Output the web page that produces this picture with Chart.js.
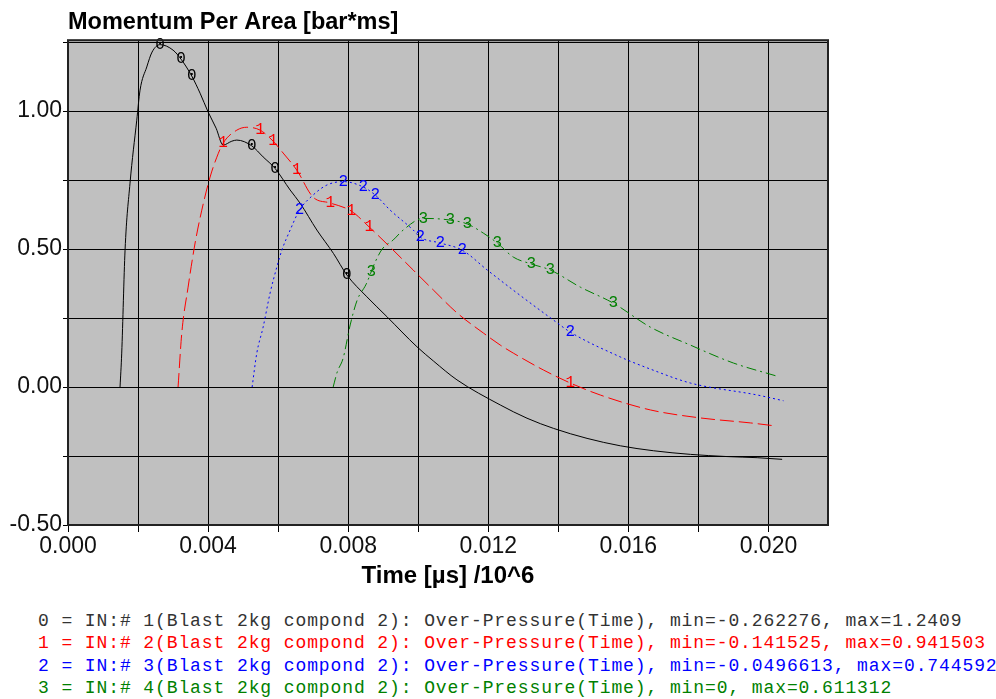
<!DOCTYPE html>
<html>
<head>
<meta charset="utf-8">
<script src="https://cdn.jsdelivr.net/npm/chart.js@4.4.1/dist/chart.umd.min.js"></script>
<style>
  body { margin: 0; background: #fff; }
  .chart-box { position: relative; width: 996px; height: 600px; }
  .legend {
    position: absolute; left: 38px; top: 610px;
    font: 18px "Liberation Mono", monospace; letter-spacing: 0.9px;
    line-height: 22.3px; white-space: pre; overflow: hidden; width: 958px;
  }
</style>
</head>
<body>
<div class="chart-box"><canvas id="myChart"></canvas></div>
<div class="legend" id="legend"></div>
<script>
// time values (x axis, Time [µs] /10^6) and over-pressure per curve
const time0 = [0.001486, 0.001534, 0.001629, 0.001771, 0.001963, 0.002057, 0.002249, 0.0024, 0.002629, 0.003, 0.003229, 0.003534, 0.003771, 0.004, 0.004229, 0.004429, 0.004677, 0.00482, 0.005249, 0.005571, 0.005914, 0.006343, 0.006629, 0.007106, 0.00758, 0.007963, 0.008534, 0.009106, 0.009963, 0.010437, 0.011106, 0.012343, 0.013106, 0.013866, 0.01482, 0.015771, 0.016723, 0.017771, 0.01882, 0.019677, 0.020391];
const value0 = [0, 0.123, 0.496, 0.739, 0.967, 1.076, 1.16, 1.214, 1.2409, 1.221, 1.188, 1.127, 1.065, 0.997, 0.938, 0.877, 0.891, 0.895, 0.874, 0.834, 0.792, 0.714, 0.666, 0.569, 0.484, 0.406, 0.327, 0.255, 0.146, 0.094, 0.026, -0.065, -0.113, -0.15, -0.186, -0.213, -0.231, -0.244, -0.252, -0.256, -0.262];

const time1 = [0.003143, 0.003249, 0.003429, 0.003629, 0.00382, 0.004057, 0.004249, 0.004429, 0.00482, 0.005106, 0.005486, 0.005857, 0.006143, 0.006534, 0.007, 0.007486, 0.008086, 0.0086, 0.009143, 0.009857, 0.010429, 0.011114, 0.011857, 0.012343, 0.012714, 0.013571, 0.014343, 0.0152, 0.016629, 0.018057, 0.019486, 0.020229];
const value1 = [0, 0.196, 0.362, 0.522, 0.641, 0.761, 0.833, 0.884, 0.931, 0.9415, 0.931, 0.891, 0.848, 0.786, 0.688, 0.667, 0.638, 0.58, 0.514, 0.424, 0.352, 0.268, 0.196, 0.152, 0.123, 0.062, 0.0145, -0.029, -0.083, -0.112, -0.13, -0.1415];

const time2 = [0.005257, 0.005391, 0.005571, 0.005771, 0.005963, 0.006106, 0.006343, 0.006609, 0.007, 0.007391, 0.007857, 0.008429, 0.008771, 0.0092, 0.009857, 0.010057, 0.010629, 0.011257, 0.011971, 0.012714, 0.013857, 0.014343, 0.015771, 0.016629, 0.017771, 0.019686, 0.020429];
const value2 = [0, 0.123, 0.217, 0.341, 0.435, 0.496, 0.569, 0.641, 0.696, 0.732, 0.7446, 0.725, 0.696, 0.641, 0.569, 0.543, 0.522, 0.496, 0.424, 0.351, 0.243, 0.199, 0.109, 0.065, 0.0145, -0.029, -0.0497];

const time3 = [0.007571, 0.007686, 0.007857, 0.008057, 0.008257, 0.008514, 0.008771, 0.008971, 0.009286, 0.009571, 0.010143, 0.010914, 0.0114, 0.011857, 0.012257, 0.012714, 0.013229, 0.013771, 0.014629, 0.015571, 0.016629, 0.017771, 0.019, 0.020229];
const value3 = [0, 0.054, 0.105, 0.225, 0.315, 0.373, 0.453, 0.5, 0.533, 0.569, 0.6113, 0.605, 0.591, 0.558, 0.522, 0.471, 0.446, 0.424, 0.362, 0.304, 0.217, 0.152, 0.087, 0.04];

// numbered markers written along each curve
const markTime0 = [0.002629, 0.003229, 0.003534, 0.005249, 0.005914, 0.007963];
const markValue0 = [1.2409, 1.188, 1.127, 0.874, 0.792, 0.406];
const markTime1 = [0.004429, 0.005486, 0.005857, 0.006534, 0.007486, 0.008086, 0.0086, 0.014343];
const markValue1 = [0.884, 0.931, 0.891, 0.786, 0.667, 0.638, 0.58, 0.0145];
const markTime2 = [0.006609, 0.007857, 0.008429, 0.008771, 0.010057, 0.010629, 0.011257, 0.014343];
const markValue2 = [0.641, 0.7446, 0.725, 0.696, 0.543, 0.522, 0.496, 0.199];
const markTime3 = [0.008657, 0.010143, 0.010914, 0.0114, 0.012257, 0.013229, 0.013771, 0.015571];
const markValue3 = [0.417, 0.6113, 0.605, 0.591, 0.522, 0.446, 0.424, 0.304];

const xTickLabels = ["0.000", "0.004", "0.008", "0.012", "0.016", "0.020"];
const yTickLabels = ["-0.50", "0.00", "0.50", "1.00"];

const legendLabels = [
  "0 = IN:# 1(Blast 2kg compond 2): Over-Pressure(Time), min=-0.262276, max=1.2409",
  "1 = IN:# 2(Blast 2kg compond 2): Over-Pressure(Time), min=-0.141525, max=0.941503",
  "2 = IN:# 3(Blast 2kg compond 2): Over-Pressure(Time), min=-0.0496613, max=0.744592",
  "3 = IN:# 4(Blast 2kg compond 2): Over-Pressure(Time), min=0, max=0.611312",
];

const seriesColors = ["#000000", "#ff0000", "#0000ff", "#008000"];
const legendColors = ["#333333", "#ff0000", "#0000ff", "#008000"];
const seriesDashes = [[], [14, 5], [2, 3], [10, 4, 2, 4]];

const allTimes = [time0, time1, time2, time3];
const allValues = [value0, value1, value2, value3];
const allMarks = [
  [markTime0, markValue0],
  [markTime1, markValue1],
  [markTime2, markValue2],
  [markTime3, markValue3],
];

const toPoints = (times, values) => times.map((t, i) => ({ x: t, y: values[i] }));

const plotFrame = {
  id: "plotFrame",
  beforeDraw(chart) {
    const { ctx, chartArea: a } = chart;
    ctx.save();
    ctx.fillStyle = "#c0c0c0";
    ctx.fillRect(a.left, a.top, a.right - a.left, a.bottom - a.top);
    ctx.restore();
  },
  afterDraw(chart) {
    const { ctx, chartArea: a } = chart;
    ctx.save();
    ctx.strokeStyle = "#222";
    ctx.lineWidth = 2;
    ctx.strokeRect(a.left, a.top, a.right - a.left, a.bottom - a.top);
    ctx.restore();
  },
};

const curveMarkers = {
  id: "curveMarkers",
  afterDatasetsDraw(chart) {
    const { ctx } = chart;
    const x = chart.scales.x;
    const y = chart.scales.y;
    ctx.save();
    ctx.font = '16px "Liberation Mono"';
    ctx.textAlign = "center";
    ctx.textBaseline = "middle";
    allMarks.forEach(([times, values], i) => {
      ctx.fillStyle = seriesColors[i];
      times.forEach((t, k) => {
        ctx.fillText(String(i), x.getPixelForValue(t), y.getPixelForValue(values[k]));
      });
    });
    ctx.restore();
  },
};

const ctx = document.querySelector("#myChart");
const myChart = new Chart(ctx, {
  type: "line",
  data: {
    datasets: allTimes.map((times, i) => ({
      label: String(i),
      data: toPoints(times, allValues[i]),
      borderColor: seriesColors[i],
      borderWidth: 1,
      borderDash: seriesDashes[i],
      pointRadius: 0,
      cubicInterpolationMode: "monotone",
      fill: false,
    })),
  },
  options: {
    responsive: true,
    maintainAspectRatio: false,
    animation: false,
    layout: { padding: { right: 168 } },
    plugins: {
      legend: { display: false },
      tooltip: { enabled: false },
      title: {
        display: true,
        text: "Momentum Per Area [bar*ms]",
        align: "start",
        fullSize: false,
        color: "#000",
        font: { family: '"Liberation Sans", Arial', size: 23.5, weight: "bold" },
        padding: { top: 8, bottom: 4 },
      },
    },
    scales: {
      x: {
        type: "linear",
        min: 0,
        max: 0.0217,
        afterFit: (scale) => { scale.height = 75; },
        grid: { color: "#000", lineWidth: 1, tickLength: 7, tickColor: "#000" },
        border: { display: false },
        ticks: {
          stepSize: 0.002,
          includeBounds: false,
          autoSkip: false,
          maxRotation: 0,
          padding: 1,
          color: "#111",
          font: { family: '"Liberation Sans", Arial', size: 23 },
          callback: (value) => {
            const s = value.toFixed(3);
            return xTickLabels.includes(s) ? s : "";
          },
        },
        title: {
          display: true,
          text: "Time [µs] /10^6",
          color: "#000",
          font: { family: '"Liberation Sans", Arial', size: 24, weight: "bold" },
          padding: { top: 4, bottom: 9 },
        },
      },
      y: {
        min: -0.5,
        max: 1.257,
        afterFit: (scale) => { scale.width = 68; },
        grid: { color: "#000", lineWidth: 1, tickLength: 5, tickColor: "#000" },
        border: { display: false },
        ticks: {
          stepSize: 0.25,
          includeBounds: false,
          autoSkip: false,
          padding: 1,
          color: "#111",
          font: { family: '"Liberation Sans", Arial', size: 23 },
          callback: (value) => {
            const s = value.toFixed(2);
            return yTickLabels.includes(s) ? s : "";
          },
        },
      },
    },
  },
  plugins: [plotFrame, curveMarkers],
});

const legendBox = document.querySelector("#legend");
legendLabels.forEach((text, i) => {
  const row = document.createElement("div");
  row.textContent = text;
  row.style.color = legendColors[i];
  legendBox.appendChild(row);
});
</script>
</body>
</html>
